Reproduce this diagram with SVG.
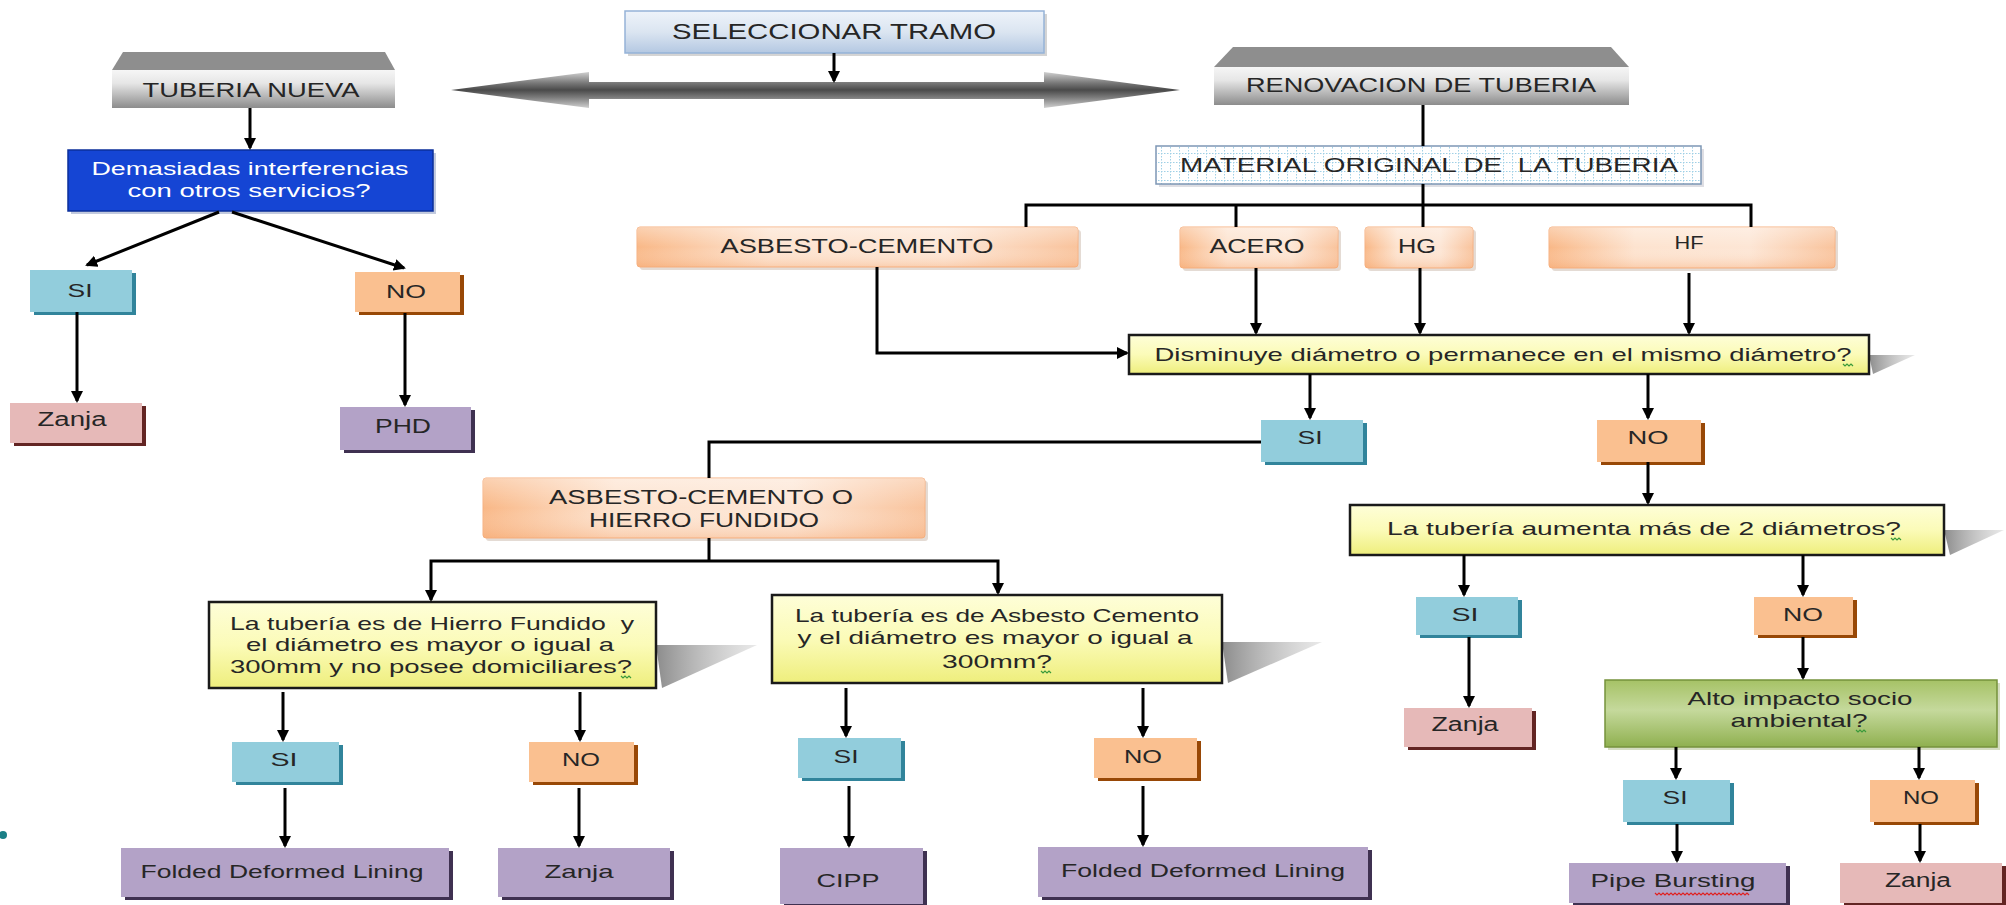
<svg xmlns="http://www.w3.org/2000/svg" width="2006" height="905" viewBox="0 0 2006 905">
<defs>
  <marker id="ah" markerUnits="userSpaceOnUse" markerWidth="14" markerHeight="14" refX="10" refY="6.5" orient="auto">
    <path d="M0,0.5 L12,6.5 L0,12.5 z" fill="#000"/>
  </marker>
  <linearGradient id="gBlue" x1="0" y1="0" x2="0" y2="1">
    <stop offset="0" stop-color="#eef3fa"/><stop offset="0.5" stop-color="#dbe5f1"/><stop offset="1" stop-color="#b4c8e2"/>
  </linearGradient>
  <linearGradient id="gGray" x1="0" y1="0" x2="0" y2="1">
    <stop offset="0" stop-color="#f6f6f6"/><stop offset="0.35" stop-color="#e6e6e6"/><stop offset="1" stop-color="#8c8c8c"/>
  </linearGradient>
  <linearGradient id="gArrow" x1="0" y1="0" x2="0" y2="1">
    <stop offset="0" stop-color="#d0d0d0"/><stop offset="0.3" stop-color="#7a7a7a"/><stop offset="0.5" stop-color="#4a4a4a"/><stop offset="0.7" stop-color="#7a7a7a"/><stop offset="1" stop-color="#d0d0d0"/>
  </linearGradient>
  <linearGradient id="gPeach" x1="0" y1="0" x2="1" y2="0">
    <stop offset="0" stop-color="#f9b887"/><stop offset="0.3" stop-color="#fde3cf"/><stop offset="0.7" stop-color="#fde6d5"/><stop offset="1" stop-color="#f9c39c"/>
  </linearGradient>
  <linearGradient id="gPeachV" x1="0" y1="0" x2="0" y2="1">
    <stop offset="0" stop-color="#ffffff" stop-opacity="0.35"/><stop offset="0.5" stop-color="#ffffff" stop-opacity="0"/><stop offset="1" stop-color="#f4a46c" stop-opacity="0.35"/>
  </linearGradient>
  <linearGradient id="gYellow" x1="0" y1="0" x2="0" y2="1">
    <stop offset="0" stop-color="#fefed8"/><stop offset="0.5" stop-color="#fbfbb8"/><stop offset="1" stop-color="#eeee7c"/>
  </linearGradient>
  <linearGradient id="gGreen" x1="0" y1="0" x2="0" y2="1">
    <stop offset="0" stop-color="#a6c266"/><stop offset="0.45" stop-color="#c5d99c"/><stop offset="1" stop-color="#8fb04f"/>
  </linearGradient>
  <linearGradient id="gShadow" x1="0" y1="0" x2="1" y2="0">
    <stop offset="0" stop-color="#8c8c8c"/><stop offset="1" stop-color="#c8c8c8" stop-opacity="0.4"/>
  </linearGradient>
  <pattern id="grid" width="9" height="9" patternUnits="userSpaceOnUse">
    <rect width="9" height="9" fill="#ffffff"/>
    <path d="M0,0.5 H9 M0.5,0 V9" stroke="#9fd0e6" stroke-width="1" stroke-dasharray="1.5,1.5" fill="none"/>
  </pattern>
</defs>
<style>
  .c{fill:none;stroke:#000;stroke-width:3}
  .a{marker-end:url(#ah)}
  text{font-family:"Liberation Sans",Arial,sans-serif;fill:#262626;text-anchor:middle}
  .s18{font-size:18px}
  .s19{font-size:19px}
  .s20{font-size:20px}
  .s21{font-size:21px}
  .s22{font-size:22px}
  .w{fill:#ffffff}
  .peach{fill:url(#gPeach);stroke:#f6b080;stroke-width:1}
  .peachov{fill:url(#gPeachV)}
  .psh{fill:#cdbdb0;opacity:0.55}
  .yel{fill:url(#gYellow);stroke:#1a1a1a;stroke-width:2.5}
  .wedge{fill:url(#gShadow)}
  .si{fill:#92cddc}
  .sish{fill:#31849b}
  .no{fill:#fac090}
  .nosh{fill:#984806}
  .pk{fill:#e6b9b8}
  .pksh{fill:#632523}
  .pu{fill:#b3a2c7}
  .push{fill:#3f3151}
  .sqg{fill:none;stroke:#3a9a3a;stroke-width:1.2}
  .sqr{fill:none;stroke:#e02020;stroke-width:1.2}
</style>
<rect width="2006" height="905" fill="#ffffff"/>

<g id="flecha-doble">
  <polygon points="451,90 589,72 589,82 1044,82 1044,72 1180,90 1044,108 1044,99 589,99 589,108" fill="url(#gArrow)"/>
</g>

<g id="seleccionar">
  <rect x="628" y="14" width="419" height="42" fill="#b7b7b7" opacity="0.6"/>
  <rect x="625" y="11" width="419" height="42" fill="url(#gBlue)" stroke="#95b3d7" stroke-width="1.5"/>
  <text class="s22" x="834" y="39" textLength="324" lengthAdjust="spacingAndGlyphs">SELECCIONAR TRAMO</text>
</g>

<g id="tuberia-nueva">
  <polygon points="123,52 385,52 395,70 112,70" fill="#8e8e8e"/>
  <rect x="112" y="70" width="283" height="38" fill="url(#gGray)"/>
  <text class="s21" x="251" y="97" textLength="217" lengthAdjust="spacingAndGlyphs">TUBERIA NUEVA</text>
</g>

<g id="renovacion">
  <polygon points="1233,47 1611,47 1629,67 1214,67" fill="#8e8e8e"/>
  <rect x="1214" y="67" width="415" height="38" fill="url(#gGray)"/>
  <text class="s21" x="1421" y="92" textLength="350" lengthAdjust="spacingAndGlyphs">RENOVACION DE TUBERIA</text>
</g>

<g id="interferencias">
  <rect x="71" y="153" width="365" height="61" fill="#9aa6c8" opacity="0.6"/>
  <rect x="68" y="150" width="365" height="61" fill="#1545d4" stroke="#0b2f9a" stroke-width="1.5"/>
  <text class="s18 w" x="250" y="175" textLength="317" lengthAdjust="spacingAndGlyphs">Demasiadas interferencias</text>
  <text class="s18 w" x="249" y="197" textLength="243" lengthAdjust="spacingAndGlyphs">con otros servicios?</text>
</g>

<g id="si-1">
  <rect x="34" y="273" width="102" height="42" class="sish"/>
  <rect x="30" y="270" width="102" height="42" class="si"/>
  <text class="s18" x="80" y="297" textLength="25" lengthAdjust="spacingAndGlyphs">SI</text>
</g>
<g id="no-1">
  <rect x="359" y="275" width="105" height="40" class="nosh"/>
  <rect x="355" y="272" width="105" height="40" class="no"/>
  <text class="s18" x="406" y="298" textLength="40" lengthAdjust="spacingAndGlyphs">NO</text>
</g>
<g id="zanja-1">
  <rect x="14" y="406" width="132" height="40" class="pksh"/>
  <rect x="10" y="403" width="132" height="40" class="pk"/>
  <text class="s20" x="72" y="426" textLength="69" lengthAdjust="spacingAndGlyphs">Zanja</text>
</g>
<g id="phd">
  <rect x="344" y="410" width="131" height="43" class="push"/>
  <rect x="340" y="407" width="131" height="43" class="pu"/>
  <text class="s20" x="403" y="433" textLength="56" lengthAdjust="spacingAndGlyphs">PHD</text>
</g>

<g id="material">
  <rect x="1159" y="149" width="545" height="38" fill="#c8c8d0" opacity="0.6"/>
  <rect x="1156" y="146" width="545" height="38" fill="url(#grid)" stroke="#7d97b5" stroke-width="1.5"/>
  <text class="s20" x="1429" y="172" textLength="498" lengthAdjust="spacingAndGlyphs" xml:space="preserve">MATERIAL ORIGINAL DE  LA TUBERIA</text>
</g>

<g id="asbesto-cemento">
  <rect x="640" y="230" width="441" height="40" rx="3" class="psh"/>
  <rect x="637" y="227" width="441" height="40" rx="3" class="peach"/>
  <rect x="637" y="227" width="441" height="40" rx="3" class="peachov"/>
  <text class="s20" x="857" y="253" textLength="273" lengthAdjust="spacingAndGlyphs">ASBESTO-CEMENTO</text>
</g>
<g id="acero">
  <rect x="1183" y="230" width="158" height="41" rx="3" class="psh"/>
  <rect x="1180" y="227" width="158" height="41" rx="3" class="peach"/>
  <rect x="1180" y="227" width="158" height="41" rx="3" class="peachov"/>
  <text class="s20" x="1257" y="253" textLength="95" lengthAdjust="spacingAndGlyphs">ACERO</text>
</g>
<g id="hg">
  <rect x="1368" y="230" width="108" height="41" rx="3" class="psh"/>
  <rect x="1365" y="227" width="108" height="41" rx="3" class="peach"/>
  <rect x="1365" y="227" width="108" height="41" rx="3" class="peachov"/>
  <text class="s20" x="1417" y="253" textLength="38" lengthAdjust="spacingAndGlyphs">HG</text>
</g>
<g id="hf">
  <rect x="1552" y="230" width="286" height="41" rx="3" class="psh"/>
  <rect x="1549" y="227" width="286" height="41" rx="3" class="peach"/>
  <rect x="1549" y="227" width="286" height="41" rx="3" class="peachov"/>
  <text class="s18" x="1689" y="249" textLength="29" lengthAdjust="spacingAndGlyphs">HF</text>
</g>

<g id="disminuye">
  <polygon points="1869,355 1915,355 1873,374" class="wedge"/>
  <rect x="1129" y="335" width="740" height="39" class="yel"/>
  <text class="s19" x="1503" y="361" textLength="697" lengthAdjust="spacingAndGlyphs">Disminuye diámetro o permanece en el mismo diámetro?</text>
  <path class="sqg" d="M1843,364 l2,2 l2,-2 l2,2 l2,-2 l2,2"/>
</g>

<g id="si-2">
  <rect x="1265" y="423" width="102" height="42" class="sish"/>
  <rect x="1261" y="420" width="102" height="42" class="si"/>
  <text class="s18" x="1310" y="444" textLength="25" lengthAdjust="spacingAndGlyphs">SI</text>
</g>
<g id="no-2">
  <rect x="1601" y="423" width="104" height="42" class="nosh"/>
  <rect x="1597" y="420" width="104" height="42" class="no"/>
  <text class="s18" x="1648" y="444" textLength="41" lengthAdjust="spacingAndGlyphs">NO</text>
</g>

<g id="asbesto-hierro">
  <rect x="486" y="481" width="442" height="60" rx="3" class="psh"/>
  <rect x="483" y="478" width="442" height="60" rx="3" class="peach"/>
  <rect x="483" y="478" width="442" height="60" rx="3" class="peachov"/>
  <text class="s20" x="701" y="504" textLength="304" lengthAdjust="spacingAndGlyphs">ASBESTO-CEMENTO O</text>
  <text class="s20" x="704" y="527" textLength="230" lengthAdjust="spacingAndGlyphs">HIERRO FUNDIDO</text>
</g>

<g id="pregunta-hierro">
  <polygon points="656,645 757,645 662,688" class="wedge"/>
  <rect x="209" y="602" width="447" height="86" class="yel"/>
  <text class="s19" x="432" y="630" textLength="404" lengthAdjust="spacingAndGlyphs" xml:space="preserve">La tubería es de Hierro Fundido  y</text>
  <text class="s19" x="430" y="651" textLength="368" lengthAdjust="spacingAndGlyphs">el diámetro es mayor o igual a</text>
  <text class="s19" x="431" y="673" textLength="402" lengthAdjust="spacingAndGlyphs">300mm y no posee domiciliares?</text>
  <path class="sqg" d="M621,676 l2,2 l2,-2 l2,2 l2,-2 l2,2"/>
</g>

<g id="pregunta-asbesto">
  <polygon points="1222,642 1322,642 1228,683" class="wedge"/>
  <rect x="772" y="595" width="450" height="88" class="yel"/>
  <text class="s19" x="997" y="622" textLength="404" lengthAdjust="spacingAndGlyphs">La tubería es de Asbesto Cemento</text>
  <text class="s19" x="995" y="644" textLength="395" lengthAdjust="spacingAndGlyphs">y el diámetro es mayor o igual a</text>
  <text class="s19" x="997" y="668" textLength="110" lengthAdjust="spacingAndGlyphs">300mm?</text>
  <path class="sqg" d="M1041,671 l2,2 l2,-2 l2,2 l2,-2 l2,2"/>
</g>

<g id="si-3">
  <rect x="236" y="745" width="107" height="40" class="sish"/>
  <rect x="232" y="742" width="107" height="40" class="si"/>
  <text class="s18" x="284" y="766" textLength="27" lengthAdjust="spacingAndGlyphs">SI</text>
</g>
<g id="no-3">
  <rect x="533" y="745" width="105" height="40" class="nosh"/>
  <rect x="529" y="742" width="105" height="40" class="no"/>
  <text class="s18" x="581" y="766" textLength="38" lengthAdjust="spacingAndGlyphs">NO</text>
</g>
<g id="folded-1">
  <rect x="125" y="851" width="328" height="49" class="push"/>
  <rect x="121" y="848" width="328" height="49" class="pu"/>
  <text class="s19" x="282" y="878" textLength="283" lengthAdjust="spacingAndGlyphs">Folded Deformed Lining</text>
</g>
<g id="zanja-2">
  <rect x="502" y="851" width="172" height="49" class="push"/>
  <rect x="498" y="848" width="172" height="49" class="pu"/>
  <text class="s19" x="579" y="878" textLength="69" lengthAdjust="spacingAndGlyphs">Zanja</text>
</g>

<g id="si-4">
  <rect x="802" y="741" width="103" height="40" class="sish"/>
  <rect x="798" y="738" width="103" height="40" class="si"/>
  <text class="s18" x="846" y="763" textLength="25" lengthAdjust="spacingAndGlyphs">SI</text>
</g>
<g id="no-4">
  <rect x="1098" y="741" width="103" height="40" class="nosh"/>
  <rect x="1094" y="738" width="103" height="40" class="no"/>
  <text class="s18" x="1143" y="763" textLength="38" lengthAdjust="spacingAndGlyphs">NO</text>
</g>
<g id="cipp">
  <rect x="784" y="851" width="143" height="56" class="push"/>
  <rect x="780" y="848" width="143" height="56" class="pu"/>
  <text class="s19" x="848" y="887" textLength="63" lengthAdjust="spacingAndGlyphs">CIPP</text>
</g>
<g id="folded-2">
  <rect x="1042" y="850" width="330" height="50" class="push"/>
  <rect x="1038" y="847" width="330" height="50" class="pu"/>
  <text class="s19" x="1203" y="877" textLength="284" lengthAdjust="spacingAndGlyphs">Folded Deformed Lining</text>
</g>

<g id="aumenta">
  <polygon points="1944,530 2004,530 1950,555" class="wedge"/>
  <rect x="1350" y="505" width="594" height="50" class="yel"/>
  <text class="s19" x="1644" y="535" textLength="514" lengthAdjust="spacingAndGlyphs">La tubería aumenta más de 2 diámetros?</text>
  <path class="sqg" d="M1891,538 l2,2 l2,-2 l2,2 l2,-2 l2,2"/>
</g>

<g id="si-5">
  <rect x="1420" y="600" width="102" height="38" class="sish"/>
  <rect x="1416" y="597" width="102" height="38" class="si"/>
  <text class="s18" x="1465" y="621" textLength="27" lengthAdjust="spacingAndGlyphs">SI</text>
</g>
<g id="no-5">
  <rect x="1758" y="600" width="99" height="38" class="nosh"/>
  <rect x="1754" y="597" width="99" height="38" class="no"/>
  <text class="s18" x="1803" y="621" textLength="40" lengthAdjust="spacingAndGlyphs">NO</text>
</g>
<g id="zanja-3">
  <rect x="1408" y="711" width="128" height="39" class="pksh"/>
  <rect x="1404" y="708" width="128" height="39" class="pk"/>
  <text class="s20" x="1465" y="731" textLength="67" lengthAdjust="spacingAndGlyphs">Zanja</text>
</g>

<g id="impacto">
  <rect x="1608" y="683" width="392" height="67" fill="#b9c79a" opacity="0.6"/>
  <rect x="1605" y="680" width="392" height="67" fill="url(#gGreen)" stroke="#76923c" stroke-width="1.5"/>
  <text class="s19" x="1800" y="705" textLength="225" lengthAdjust="spacingAndGlyphs">Alto impacto socio</text>
  <text class="s19" x="1799" y="727" textLength="137" lengthAdjust="spacingAndGlyphs">ambiental?</text>
  <path class="sqg" d="M1856,730 l2,2 l2,-2 l2,2 l2,-2 l2,2"/>
</g>

<g id="si-6">
  <rect x="1627" y="783" width="107" height="42" class="sish"/>
  <rect x="1623" y="780" width="107" height="42" class="si"/>
  <text class="s18" x="1675" y="804" textLength="25" lengthAdjust="spacingAndGlyphs">SI</text>
</g>
<g id="no-6">
  <rect x="1874" y="783" width="105" height="42" class="nosh"/>
  <rect x="1870" y="780" width="105" height="42" class="no"/>
  <text class="s18" x="1921" y="804" textLength="36" lengthAdjust="spacingAndGlyphs">NO</text>
</g>
<g id="pipe-bursting">
  <rect x="1573" y="866" width="217" height="40" class="push"/>
  <rect x="1569" y="863" width="217" height="40" class="pu"/>
  <text class="s19" x="1673" y="887" textLength="165" lengthAdjust="spacingAndGlyphs">Pipe Bursting</text>
  <path class="sqr" d="M1655,893 l2,2 l2,-2 l2,2 l2,-2 l2,2 l2,-2 l2,2 l2,-2 l2,2 l2,-2 l2,2 l2,-2 l2,2 l2,-2 l2,2 l2,-2 l2,2 l2,-2 l2,2 l2,-2 l2,2 l2,-2 l2,2 l2,-2 l2,2 l2,-2 l2,2 l2,-2 l2,2 l2,-2 l2,2 l2,-2 l2,2 l2,-2 l2,2 l2,-2 l2,2 l2,-2 l2,2 l2,-2 l2,2 l2,-2 l2,2 l2,-2 l2,2 l2,-2 l2,2"/>
</g>
<g id="zanja-4">
  <rect x="1844" y="866" width="162" height="40" class="pksh"/>
  <rect x="1840" y="863" width="162" height="40" class="pk"/>
  <text class="s20" x="1918" y="887" textLength="66" lengthAdjust="spacingAndGlyphs">Zanja</text>
</g>

<g id="connectors">
  <path class="c a" d="M834,53 V81"/>
  <path class="c a" d="M250,108 V148"/>
  <path class="c a" d="M219,212 L87,265"/>
  <path class="c a" d="M232,212 L404,268"/>
  <path class="c a" d="M77,312 V401"/>
  <path class="c a" d="M405,313 V405"/>
  <path class="c" d="M1423,105 V146"/>
  <path class="c" d="M1423,184 V227"/>
  <path class="c" d="M1026,227 V205 H1751 V227"/>
  <path class="c" d="M1236,205 V227"/>
  <path class="c a" d="M1256,268 V333"/>
  <path class="c a" d="M1420,268 V333"/>
  <path class="c a" d="M1689,273 V333"/>
  <path class="c a" d="M877,267 V353 H1127"/>
  <path class="c a" d="M1310,374 V418"/>
  <path class="c a" d="M1648,374 V418"/>
  <path class="c" d="M1261,442 H709 V478"/>
  <path class="c" d="M709,538 V561"/>
  <path class="c a" d="M709,561 H431 V600"/>
  <path class="c a" d="M709,561 H998 V593"/>
  <path class="c a" d="M283,692 V740"/>
  <path class="c a" d="M580,692 V740"/>
  <path class="c a" d="M285,788 V846"/>
  <path class="c a" d="M579,788 V846"/>
  <path class="c a" d="M846,688 V736"/>
  <path class="c a" d="M1143,688 V736"/>
  <path class="c a" d="M849,786 V846"/>
  <path class="c a" d="M1143,786 V845"/>
  <path class="c a" d="M1648,462 V503"/>
  <path class="c a" d="M1464,555 V595"/>
  <path class="c a" d="M1803,555 V595"/>
  <path class="c a" d="M1469,637 V706"/>
  <path class="c a" d="M1803,637 V678"/>
  <path class="c a" d="M1676,747 V778"/>
  <path class="c a" d="M1919,747 V778"/>
  <path class="c a" d="M1677,824 V861"/>
  <path class="c a" d="M1920,824 V861"/>
</g>

<circle cx="3" cy="835" r="4" fill="#1a7f86"/>
</svg>
